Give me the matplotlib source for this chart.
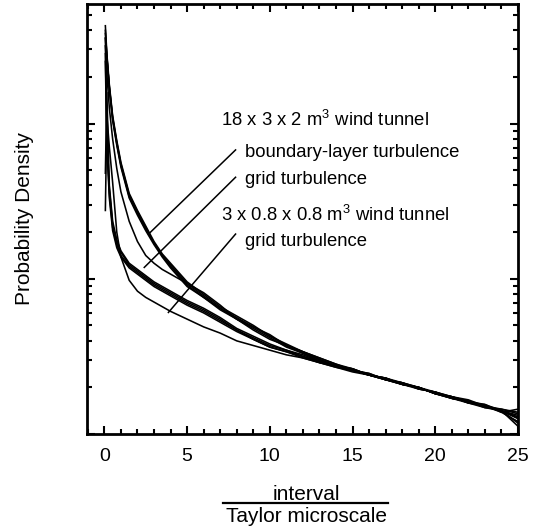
import matplotlib
matplotlib.use("Agg")
import matplotlib.pyplot as plt
from matplotlib.lines import Line2D
from matplotlib.ticker import MultipleLocator, NullFormatter
import numpy as np

plt.rcParams['font.family'] = ['Liberation Sans', 'DejaVu Sans']
plt.rcParams['mathtext.fontset'] = 'custom'
plt.rcParams['mathtext.rm'] = 'Liberation Sans'

# interval / Taylor microscale
interval = [0.06, 0.15, 0.3, 0.5, 0.75, 1.0, 1.5, 2.0, 2.5, 3.0, 3.5, 4.0,
            5, 6, 7, 8, 9, 10, 11, 12, 13, 14, 15, 16, 17, 18, 19, 20,
            21, 22, 23, 24, 25]

# log10 of probability density
# 18 x 3 x 2 m^3 tunnel, boundary-layer turbulence
bl_1 = [-1.37, -1.55, -1.75, -1.95, -2.11, -2.25, -2.45, -2.56, -2.66, -2.76, -2.84, -2.90,
        -3.02, -3.10, -3.18, -3.24, -3.30, -3.37, -3.42, -3.47, -3.51, -3.55, -3.58, -3.62,
        -3.64, -3.68, -3.70, -3.74, -3.76, -3.79, -3.82, -3.84, -3.87]
bl_2 = [-1.40, -1.57, -1.77, -1.96, -2.12, -2.26, -2.46, -2.57, -2.67, -2.77, -2.85, -2.91,
        -3.03, -3.11, -3.19, -3.25, -3.31, -3.36, -3.43, -3.47, -3.52, -3.56, -3.59, -3.61,
        -3.65, -3.67, -3.71, -3.73, -3.77, -3.79, -3.81, -3.85, -3.90]
bl_3 = [-1.45, -1.58, -1.76, -1.97, -2.13, -2.27, -2.47, -2.58, -2.68, -2.77, -2.85, -2.92,
        -3.04, -3.12, -3.19, -3.26, -3.31, -3.37, -3.43, -3.48, -3.52, -3.56, -3.59, -3.62,
        -3.65, -3.68, -3.70, -3.74, -3.77, -3.80, -3.82, -3.86, -3.84]
bl_4 = [-1.42, -1.56, -1.78, -1.98, -2.14, -2.28, -2.48, -2.59, -2.69, -2.78, -2.86, -2.93,
        -3.05, -3.12, -3.20, -3.26, -3.32, -3.38, -3.44, -3.48, -3.53, -3.56, -3.58, -3.62,
        -3.64, -3.68, -3.71, -3.73, -3.76, -3.80, -3.83, -3.85, -3.93]
# 18 x 3 x 2 m^3 tunnel, grid turbulence
grid_mid = [-1.50, -1.68, -1.90, -2.10, -2.29, -2.44, -2.63, -2.76, -2.85, -2.90, -2.94, -2.97,
            -3.03, -3.09, -3.17, -3.26, -3.33, -3.39, -3.43, -3.47, -3.51, -3.55, -3.59, -3.62,
            -3.65, -3.67, -3.70, -3.74, -3.77, -3.79, -3.82, -3.85, -3.89]
grid_1 = [-1.45, -2.05, -2.42, -2.65, -2.76, -2.83, -2.91, -2.95, -2.99, -3.03, -3.06, -3.09,
          -3.15, -3.20, -3.26, -3.33, -3.38, -3.43, -3.46, -3.50, -3.53, -3.56, -3.59, -3.62,
          -3.64, -3.68, -3.70, -3.74, -3.76, -3.79, -3.82, -3.85, -3.88]
grid_2 = [-1.55, -2.10, -2.45, -2.67, -2.78, -2.85, -2.92, -2.96, -3.00, -3.04, -3.07, -3.10,
          -3.16, -3.21, -3.27, -3.33, -3.39, -3.44, -3.47, -3.50, -3.54, -3.57, -3.59, -3.61,
          -3.65, -3.67, -3.71, -3.73, -3.76, -3.80, -3.81, -3.86, -3.92]
grid_3 = [-2.32, -1.80, -2.40, -2.63, -2.75, -2.82, -2.90, -2.94, -2.98, -3.02, -3.05, -3.08,
          -3.14, -3.19, -3.25, -3.32, -3.37, -3.42, -3.46, -3.49, -3.53, -3.56, -3.58, -3.62,
          -3.65, -3.68, -3.70, -3.73, -3.77, -3.79, -3.83, -3.84, -3.86]
grid_4 = [-1.60, -2.15, -2.48, -2.69, -2.80, -2.86, -2.93, -2.97, -3.01, -3.05, -3.08, -3.11,
          -3.17, -3.22, -3.28, -3.34, -3.39, -3.44, -3.47, -3.51, -3.54, -3.57, -3.60, -3.62,
          -3.64, -3.67, -3.70, -3.74, -3.76, -3.78, -3.82, -3.85, -3.95]
# 3 x 0.8 x 0.8 m^3 tunnel, grid turbulence
small_grid = [-2.56, -1.95, -2.15, -2.38, -2.70, -2.86, -3.01, -3.08, -3.12, -3.15, -3.18, -3.21,
              -3.26, -3.31, -3.35, -3.40, -3.43, -3.46, -3.49, -3.51, -3.54, -3.56, -3.59, -3.62,
              -3.65, -3.68, -3.70, -3.74, -3.77, -3.79, -3.82, -3.85, -3.90]

curves = [bl_1, bl_2, bl_3, bl_4, grid_mid, grid_1, grid_2, grid_3, grid_4, small_grid]

x_ticks = [0, 5, 10, 15, 20, 25]

# labels: text, x, log10 y (baseline)
labels = [
    ("18 x 3 x 2 m$^{3}$ wind tunnel", 7.05, -2.013),
    ("boundary-layer turbulence", 8.49, -2.213),
    ("grid turbulence", 8.49, -2.387),
    ("3 x 0.8 x 0.8 m$^{3}$ wind tunnel", 7.05, -2.626),
    ("grid turbulence", 8.49, -2.787),
]
# leader lines: (x0, logy0, x1, logy1)
leaders = [
    (7.93, -2.170, 2.67, -2.712),
    (7.93, -2.346, 2.41, -2.927),
    (7.93, -2.712, 3.87, -3.217),
]

W, H = 543, 531
fig = plt.figure(figsize=(W / 100, H / 100), dpi=100)
ax = fig.add_axes([87 / W, 1 - 434 / H, (518 - 87) / W, (434 - 4) / H])

for c in curves:
    ax.plot(interval, 10 ** np.array(c), color='black', lw=1.15)

for x0, y0, x1, y1 in leaders:
    ax.plot([x0, x1], [10 ** y0, 10 ** y1], color='black', lw=1.1)

for txt, x, y in labels:
    ax.text(x, 10 ** y, txt, fontsize=13.3, ha='left', va='baseline')

ax.set_yscale('log')
ax.set_xlim(-1.05, 24.9)
ax.set_ylim(1e-4, 10 ** -1.23)
ax.set_xticks(x_ticks)
ax.xaxis.set_minor_locator(MultipleLocator(1))
ax.yaxis.set_major_formatter(NullFormatter())
ax.yaxis.set_minor_formatter(NullFormatter())
ax.tick_params(which='both', direction='in', top=True, right=True, width=1.5)
ax.tick_params(which='major', length=6, labelsize=14, pad=10)
ax.tick_params(which='minor', length=3.5)
for s in ax.spines.values():
    s.set_linewidth(2.0)

fig.text(25 / W, 1 - 218 / H, 'Probability Density', rotation=90,
         ha='center', va='center', fontsize=15)
fig.text(306 / W, 1 - 494 / H, 'interval', ha='center', va='center', fontsize=15)
fig.add_artist(Line2D([223 / W, 388 / W], [1 - 503 / H, 1 - 503 / H],
                      transform=fig.transFigure, color='black', lw=1.6))
fig.text(306 / W, 1 - 516 / H, 'Taylor microscale', ha='center', va='center', fontsize=15)

fig.savefig('out.png', dpi=100)
